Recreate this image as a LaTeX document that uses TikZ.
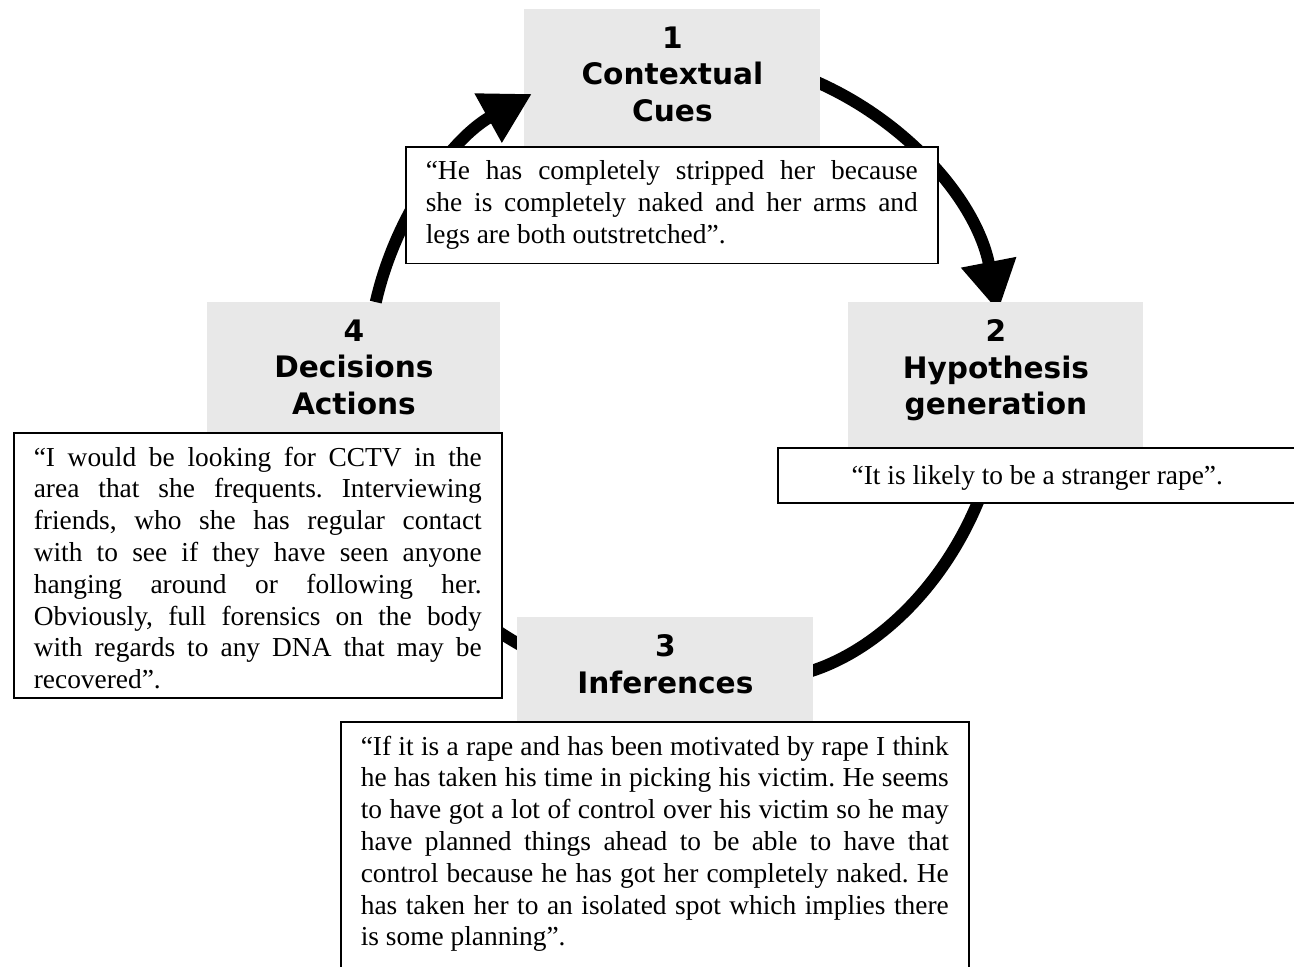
\documentclass[tikz,border=0pt]{standalone}
\usepackage{fontspec}
\setmainfont{Liberation Serif}
\newfontfamily\headfont{DejaVu Sans}
\usepackage{tikz}
\usetikzlibrary{arrows.meta}
\definecolor{stagegray}{RGB}{232,232,232}
\frenchspacing
\tikzset{>={Triangle[length=25pt,width=26.5pt]}}
\tikzset{
  stage/.style={fill=stagegray,inner sep=0pt,anchor=north west},
  stagetext/.style={anchor=north,inner sep=0pt,yshift=-8.6pt,align=center,
    font=\headfont\bfseries\fontsize{14.8}{18.3}\selectfont},
  quote/.style={draw,line width=.8pt,fill=white,anchor=north west,inner xsep=10pt,
    inner ysep=7pt,align=justify,font=\fontsize{13.7}{15.9}\selectfont},
  loopline/.style={line width=6pt}
}
\newcommand{\jline}[1]{\makebox[\hsize][s]{#1}}

\begin{document}
\begin{tikzpicture}[x=.5pt,y=-.5pt]
        \useasboundingbox (0,0) rectangle (1294,966);
        \coordinate (hub) at (686,372);
        \draw [loopline,->] (hub) ++(75:159pt) arc[start angle=75,end angle=11,radius=159pt];
        \draw [loopline,->] (hub) ++(5:159pt) arc[start angle=5,end angle=-80,radius=159pt];
        \draw [loopline,->] (hub) ++(-100:159pt) arc[start angle=-100,end angle=-160,radius=159pt];
        \node[stage,minimum width=148pt,minimum height=70.5pt] (cues) at (524,9) {};
        \node[stage,minimum width=147.5pt,minimum height=74pt] (hypothesis) at (848,302) {};
        \node[stage,minimum width=148pt,minimum height=53pt] (inferences) at (517,617) {};
        \node[stage,minimum width=146.5pt,minimum height=66.5pt] (decisions) at (207,302) {};
        \node[stagetext] (cuestext) at (cues.north) {1\\Contextual\\Cues};
        \node[stagetext] (hypothesistext) at (hypothesis.north) {2\\Hypothesis\\generation};
        \node[stagetext] (inferencestext) at (inferences.north) {3\\Inferences};
        \node[stagetext] (decisionstext) at (decisions.north) {4\\Decisions\\Actions};
        \draw [loopline,->] (hub) ++(167.3:159pt) arc[start angle=167.3,end angle=119,radius=159pt];
        \node[quote,text width=246pt] (cuesquote) at (405,146)
          {\jline{“He has completely stripped her because}\\
           \jline{she is completely naked and her arms and}\\
           legs are both outstretched”.};
        \node[quote,minimum width=259.5pt,minimum height=27.5pt,align=center,text depth=0pt] (hypothesisquote) at (777,447)
          {“It is likely to be a stranger rape”.};
        \node[quote,text width=294pt] (inferencesquote) at (340,721)
          {\jline{“If it is a rape and has been motivated by rape I think}\\
           \jline{he has taken his time in picking his victim. He seems}\\
           \jline{to have got a lot of control over his victim so he may}\\
           \jline{have planned things ahead to be able to have that}\\
           \jline{control because he has got her completely naked. He}\\
           \jline{has taken her to an isolated spot which implies there}\\
           is some planning”.\rule[-8pt]{0pt}{1pt}};
        \node[quote,text width=224pt,text depth=108.8pt] (decisionsquote) at (13,432)
          {\jline{“I would be looking for CCTV in the}\\
           \jline{area that she frequents. Interviewing}\\
           \jline{friends, who she has regular contact}\\
           \jline{with to see if they have seen anyone}\\
           \jline{hanging around or following her.}\\
           \jline{Obviously, full forensics on the body}\\
           \jline{with regards to any DNA that may be}\\
           recovered”.};
\end{tikzpicture}
\end{document}
